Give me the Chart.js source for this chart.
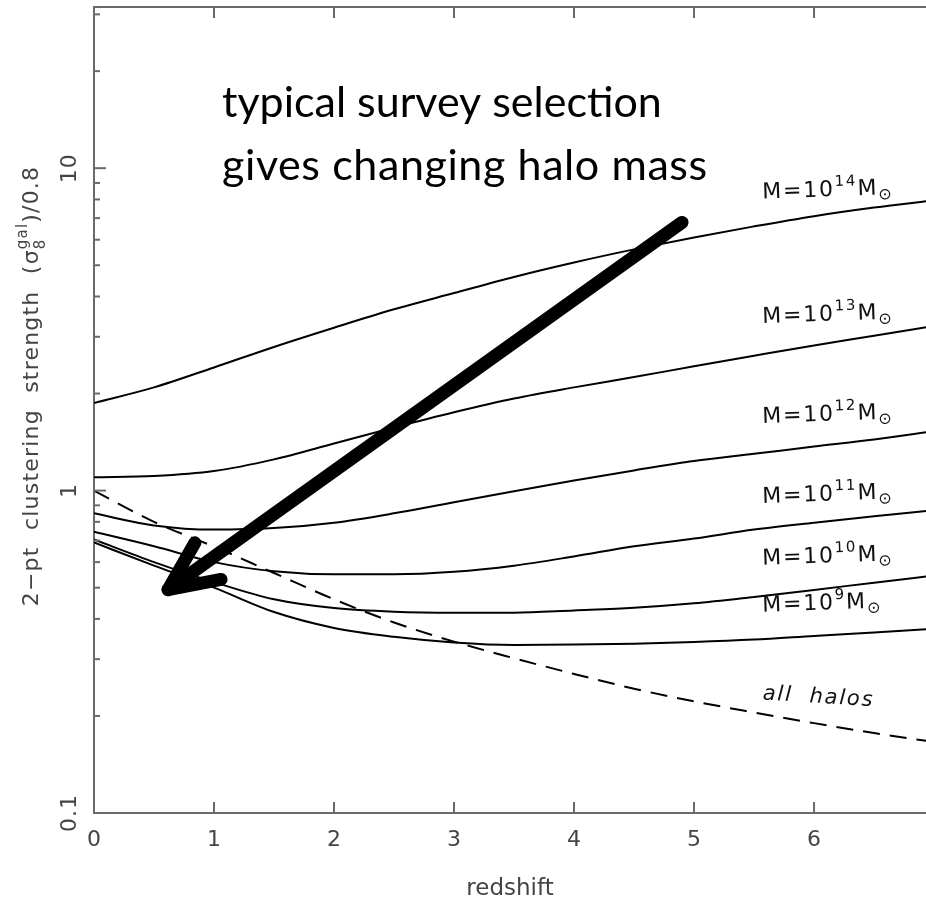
<!DOCTYPE html>
<html>
<head>
<meta charset="utf-8">
<script src="https://cdn.jsdelivr.net/npm/chart.js@4.4.1/dist/chart.umd.min.js"></script>
<style>
  html, body { margin: 0; padding: 0; background: #fff; }
  canvas { display: block; }
</style>
</head>
<body>
<canvas id="chart" width="926" height="906"></canvas>
<script>
// halo bias curves
const redshift = [0, 0.5, 1, 1.5, 2, 2.5, 3, 3.5, 4, 4.5, 5, 5.5, 6, 6.5, 7];
const m14 = [1.87, 2.09, 2.41, 2.79, 3.20, 3.65, 4.10, 4.60, 5.10, 5.60, 6.10, 6.60, 7.10, 7.55, 7.95];
const m13 = [1.10, 1.11, 1.15, 1.25, 1.40, 1.57, 1.75, 1.93, 2.09, 2.25, 2.43, 2.62, 2.82, 3.02, 3.24];
const m12 = [0.85, 0.78, 0.757, 0.765, 0.795, 0.85, 0.92, 0.995, 1.075, 1.155, 1.235, 1.30, 1.37, 1.44, 1.53];
const m11 = [0.745, 0.672, 0.60, 0.562, 0.55, 0.55, 0.56, 0.585, 0.625, 0.672, 0.71, 0.757, 0.795, 0.832, 0.87];
const m10 = [0.705, 0.60, 0.52, 0.46, 0.432, 0.421, 0.418, 0.418, 0.425, 0.433, 0.447, 0.468, 0.492, 0.518, 0.545];
const m9 = [0.69, 0.585, 0.50, 0.42, 0.375, 0.352, 0.338, 0.332, 0.333, 0.335, 0.339, 0.345, 0.354, 0.363, 0.373];
const allHalos = [1.0, 0.80, 0.67, 0.555, 0.46, 0.39, 0.34, 0.302, 0.27, 0.243, 0.222, 0.205, 0.19, 0.177, 0.166];

const massExp = ['14', '13', '12', '11', '10', '9'];
const massLabelY = [8.05, 3.31, 1.62, 0.916, 0.589, 0.421];
const labelZ = 5.57;
const allHalosLabelY = 0.225;
const yTickLabels = [0.1, 1, 10];
const xTickLabels = [0, 1, 2, 3, 4, 5, 6];

const arrowTail = { x: 4.9, y: 6.79 };
const arrowTip = { x: 0.617, y: 0.493 };

const AXIS = '#6a6a6a';
const TEXT = '#444';
const FONT = '"DejaVu Sans", sans-serif';

function series(vals) {
  return redshift.map((z, i) => ({ x: z, y: vals[i] }));
}

// parts: [text, size, dy, advance]
function richText(ctx, parts, x, y, angle, align, color, spacing) {
  ctx.save();
  ctx.translate(x, y);
  ctx.rotate(angle);
  ctx.fillStyle = color;
  ctx.textBaseline = 'alphabetic';
  ctx.textAlign = 'left';
  ctx.letterSpacing = (spacing || 0) + 'px';
  let w = 0;
  parts.forEach(p => {
    ctx.font = p[1] + 'px ' + FONT;
    if (p[3] !== false) w += ctx.measureText(p[0]).width;
  });
  let cx = align === 'center' ? -w / 2 : 0;
  parts.forEach(p => {
    ctx.font = p[1] + 'px ' + FONT;
    ctx.fillText(p[0], cx, p[2]);
    if (p[3] !== false) cx += ctx.measureText(p[0]).width;
  });
  ctx.restore();
}

function line(ctx, x1, y1, x2, y2) {
  ctx.beginPath();
  ctx.moveTo(x1, y1);
  ctx.lineTo(x2, y2);
  ctx.stroke();
}

const decorations = {
  id: 'decorations',
  afterDraw(chart) {
    const ctx = chart.ctx;
    const a = chart.chartArea;
    const xs = chart.scales.x, ys = chart.scales.y;

    // frame top + inward ticks
    ctx.save();
    ctx.strokeStyle = AXIS;
    ctx.lineWidth = 2;
    line(ctx, a.left, a.top, a.right, a.top);
    xTickLabels.forEach(z => {
      const px = xs.getPixelForValue(z);
      line(ctx, px, a.bottom, px, a.bottom - 11);
      line(ctx, px, a.top, px, a.top + 11);
    });
    for (let d = -1; d <= 1; d++) {
      for (let m = 1; m <= 9; m++) {
        const v = m * Math.pow(10, d);
        if (v > ys.max) continue;
        const py = ys.getPixelForValue(v);
        line(ctx, a.left, py, a.left + (m === 1 ? 12 : 6), py);
      }
    }
    ctx.restore();

    // rotated y tick labels
    yTickLabels.forEach(v => {
      const py = ys.getPixelForValue(v);
      richText(ctx, [[String(v), 22, 0]], 76, py, -Math.PI / 2, 'center', TEXT, 1);
    });

    // y title
    richText(ctx, [
      ['2\u2212pt  clustering  strength  (\u03c3', 22, 0],
      ['8', 15, 7, false],
      ['gal', 15, -11],
      [')/0.8', 22, 0]
    ], 38, 386, -Math.PI / 2, 'center', TEXT, 1.2);

    // curve labels
    const lx = xs.getPixelForValue(labelZ);
    massExp.forEach((e, i) => {
      const py = ys.getPixelForValue(massLabelY[i]);
      richText(ctx, [
        ['M=10', 22, 0],
        [e, 15, -10],
        ['M', 22, 0],
        ['\u2299', 16, 5]
      ], lx, py, -0.035, 'left', '#111', 1.8);
    });
    ctx.save();
    ctx.font = 'oblique 21px ' + FONT;
    ctx.letterSpacing = '1.8px';
    ctx.fillStyle = '#111';
    ctx.translate(lx, ys.getPixelForValue(allHalosLabelY));
    ctx.rotate(0.06);
    ctx.fillText('all  halos', 0, 0);
    ctx.restore();

    // annotation text
    ctx.save();
    ctx.fillStyle = '#000';
    ctx.font = '43px Lato, "Open Sans", sans-serif';
    ctx.fillText('typical survey selection', 222, 117);
    ctx.letterSpacing = '0.6px';
    ctx.fillText('gives changing halo mass', 222, 180);
    ctx.restore();

    // arrow
    const tx = xs.getPixelForValue(arrowTail.x), ty = ys.getPixelForValue(arrowTail.y);
    const hx = xs.getPixelForValue(arrowTip.x), hy = ys.getPixelForValue(arrowTip.y);
    const ang = Math.atan2(ty - hy, tx - hx);
    const barb = 54, spread = 0.43;
    ctx.save();
    ctx.strokeStyle = '#000';
    ctx.lineWidth = 13;
    ctx.lineCap = 'round';
    ctx.lineJoin = 'round';
    ctx.beginPath();
    ctx.moveTo(tx, ty);
    ctx.lineTo(hx, hy);
    ctx.stroke();
    ctx.beginPath();
    ctx.moveTo(hx + barb * Math.cos(ang - spread), hy + barb * Math.sin(ang - spread));
    ctx.lineTo(hx, hy);
    ctx.lineTo(hx + barb * Math.cos(ang + spread), hy + barb * Math.sin(ang + spread));
    ctx.stroke();
    ctx.restore();
  }
};

const curve = (vals, dash) => ({
  data: series(vals),
  borderColor: '#000',
  borderWidth: 2,
  borderDash: dash || [],
  pointRadius: 0,
  fill: false,
  cubicInterpolationMode: 'monotone'
});

new Chart(document.getElementById('chart'), {
  type: 'line',
  data: {
    datasets: [
      curve(m14), curve(m13), curve(m12), curve(m11), curve(m10), curve(m9),
      curve(allHalos, [17, 10])
    ]
  },
  options: {
    responsive: false,
    animation: false,
    devicePixelRatio: 1,
    layout: { padding: { top: 7, right: 0, left: 0, bottom: 0 } },
    plugins: { legend: { display: false }, tooltip: { enabled: false } },
    scales: {
      x: {
        type: 'linear',
        min: 0,
        max: 6.933,
        grid: { display: false, drawTicks: false },
        border: { display: true, color: AXIS, width: 2 },
        ticks: {
          stepSize: 1,
          includeBounds: false,
          padding: 14,
          color: TEXT,
          font: { family: FONT, size: 22 },
          maxRotation: 0
        },
        title: {
          display: true,
          text: 'redshift',
          color: TEXT,
          font: { family: FONT, size: 23 },
          padding: { top: 0, bottom: 3 }
        },
        afterFit: s => { s.height = 93; }
      },
      y: {
        type: 'logarithmic',
        min: 0.1,
        max: 31.62,
        grid: { display: false, drawTicks: false },
        border: { display: true, color: AXIS, width: 2 },
        ticks: { display: false },
        afterFit: s => { s.width = 94; }
      }
    }
  },
  plugins: [decorations]
});
</script>
</body>
</html>
